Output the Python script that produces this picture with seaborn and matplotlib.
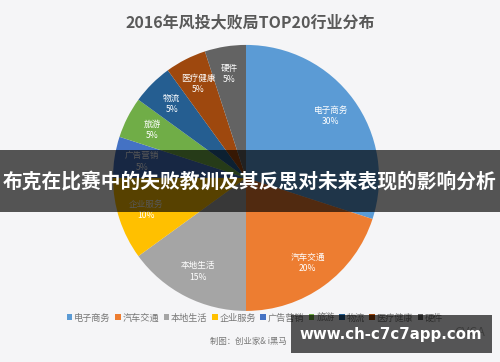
import numpy as np
import matplotlib
matplotlib.use('Agg')
import matplotlib.pyplot as plt
import seaborn as sns
from matplotlib.patches import Rectangle

sns.set_theme(style='white')
plt.rcParams['font.family'] = ['Noto Sans CJK SC', 'DejaVu Sans']

# 行业分布数据
industries = ['电子商务', '汽车交通', '本地生活', '企业服务', '广告营销', '旅游', '物流', '医疗健康', '硬件']
shares = [30, 20, 15, 10, 5, 5, 5, 5, 5]
colors = ['#5B9BD5', '#ED7D31', '#A5A5A5', '#FFC000', '#4472C4',
          '#70AD47', '#255E91', '#9E480E', '#636363']

title = '2016年风投大败局TOP20行业分布'
banner = '布克在比赛中的失败教训及其反思对未来表现的影响分析'
site = 'www.ch-c7c7app.com'
credit = '制图：创业家& i黑马'

fig = plt.figure(figsize=(5, 3.62), dpi=100)
fig.patch.set_facecolor('#f5f5f7')

ax = fig.add_axes([0.226, 0.141, 0.532, 0.735])
wedges, _ = ax.pie(shares, colors=colors, startangle=90, counterclock=False,
                   wedgeprops=dict(linewidth=0))
ax.set_xlim(-1, 1)
ax.set_ylim(-1, 1)
ax.set_aspect('equal')

# 扇区内标签
for w, name, val in zip(wedges, industries, shares):
    mid = np.deg2rad((w.theta1 + w.theta2) / 2)
    r = 0.79
    x, y = r * np.cos(mid), r * np.sin(mid)
    ax.text(x, y, f'{name}\n{val}%', ha='center', va='center', color='white',
            fontsize=6.2, linespacing=1.3)

fig.text(0.5, 1 - 22 / 362, title, ha='center', va='center', fontsize=11.5,
         fontweight='bold', color='#595959')

leg = ax.legend(wedges, industries, loc='center', bbox_to_anchor=(0.51, 1 - 318 / 362),
                bbox_transform=fig.transFigure, ncol=9, frameon=False, fontsize=6.6,
                handlelength=0.6, handleheight=0.6, handletextpad=0.2,
                columnspacing=0.5, labelcolor='#777777')

fig.text(210 / 500, 1 - 341 / 362, credit, ha='left', va='center', fontsize=6,
         color='#777777')
fig.text(470 / 500, 1 - 333 / 362, 'CVCA', ha='center', va='center', fontsize=9,
         color='#aaaaaa', style='italic')

# 遮罩横幅
fig.patches.append(Rectangle((0, 1 - 212 / 362), 1, 62 / 362, transform=fig.transFigure,
                             facecolor='black', alpha=0.66, linewidth=0, zorder=5))
fig.text(0.5, 1 - 182 / 362, banner, ha='center', va='center', fontsize=14.2,
         fontweight='bold', color='white', zorder=6)

fig.patches.append(Rectangle((291 / 500, 1 - 353 / 362), 201 / 500, 38 / 362,
                             transform=fig.transFigure, facecolor='black', alpha=0.65,
                             linewidth=0, zorder=5))
fig.text(391 / 500, 1 - 334 / 362, site, ha='center', va='center', fontsize=10.8,
         fontweight='bold', color='white', zorder=6, family='DejaVu Sans')

fig.savefig('out.png', dpi=100, facecolor=fig.get_facecolor())
